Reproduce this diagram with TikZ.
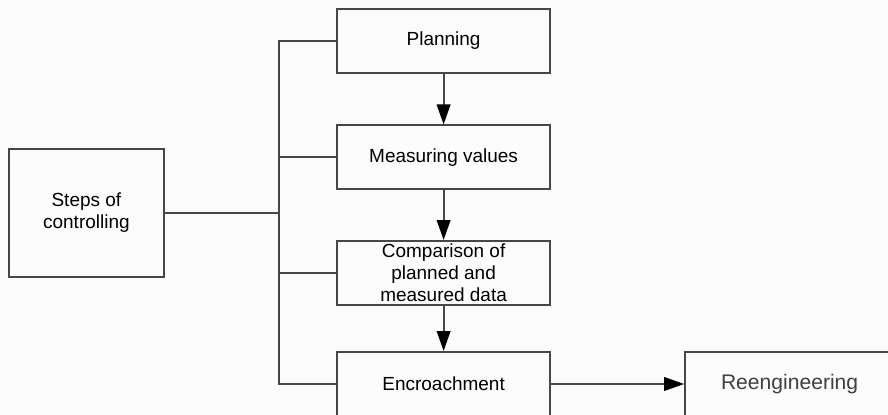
\documentclass[tikz,border=0pt]{standalone}
\usepackage{fontspec}
\setmainfont{Liberation Sans}
\usetikzlibrary{arrows.meta}
\tikzset{stepbox/.style={draw, rectangle, inner sep=0pt, align=center,
    font=\fontsize{13.5}{15.5}\selectfont, text=black},
  flow/.style={-{Triangle[length=0.5cm,width=0.34cm,black]}}}

\begin{document}
\begin{tikzpicture}[color=black!72, line width=1.4pt]
  \fill[black!1] (0,0) rectangle (22.2,10.375);
  \clip (0,0) rectangle (22.2,10.375);
  \useasboundingbox (0,0) rectangle (22.2,10.375);

  \node[stepbox, minimum width=3.875cm, minimum height=3.2cm] (steps) at (2.16, 5.05) {Steps of\\controlling};
  \node[stepbox, minimum width=5.325cm, minimum height=1.6cm] (plan) at (11.09, 9.35) {Planning};
  \node[stepbox, minimum width=5.325cm, minimum height=1.6cm] (meas) at (11.09, 6.44) {Measuring values};
  \node[stepbox, minimum width=5.325cm, minimum height=1.6cm] (comp) at (11.09, 3.55) {Comparison of\\planned and\\measured data};
  \node[stepbox, minimum width=5.325cm, minimum height=1.6cm] (encr) at (11.09, 0.775) {Encroachment};
  \node[stepbox, minimum width=5.225cm, minimum height=1.6cm, text=black!75,
    font=\fontsize{15}{17}\selectfont] (reen) at (19.74, 0.775) {Reengineering};

  \coordinate (bus) at (6.975, 5.05);

  \draw (steps) -- (bus);
  \draw (plan.west) -- (plan.west -| bus) -- (encr.west -| bus) -- (encr.west);
  \draw (meas.west) -- (meas.west -| bus);
  \draw (comp.west) -- (comp.west -| bus);

  \draw[flow] (plan) -- (meas);
  \draw[flow] (meas) -- (comp);
  \draw[flow] (comp) -- (encr);
  \draw[flow] (encr) -- (reen);
\end{tikzpicture}
\end{document}
